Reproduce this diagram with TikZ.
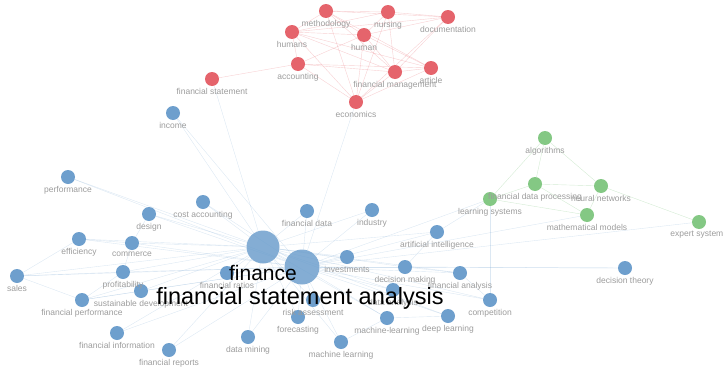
\documentclass[tikz,border=0pt]{standalone}
\usepackage{fontspec}
\setmainfont{Liberation Sans}
\usetikzlibrary{positioning,backgrounds}
\pgfdeclarelayer{background}
\pgfdeclarelayer{front}
\pgfsetlayers{background,main,front}
\definecolor{kwblue}{HTML}{6E9FCD}
\definecolor{kwred}{HTML}{E5646C}
\definecolor{kwgreen}{HTML}{84C884}
\definecolor{kwgrey}{HTML}{9C9C9C}
\tikzstyle{bluekw}=[circle, fill=kwblue, minimum size=14pt, inner sep=0pt]
\tikzstyle{redkw}=[circle, fill=kwred, minimum size=14pt, inner sep=0pt]
\tikzstyle{greenkw}=[circle, fill=kwgreen, minimum size=14pt, inner sep=0pt]
\tikzstyle{hub}=[circle, fill=kwblue, fill opacity=0.85, inner sep=0pt]
\tikzstyle{lbl}=[text=kwgrey, font=\fontsize{8.5}{9}\selectfont, inner sep=0pt]
\tikzstyle{biglbl}=[text=black, inner sep=0pt, anchor=base]
\tikzstyle{bluelink}=[draw=kwblue!80, opacity=0.3, line width=0.4pt]
\tikzstyle{redlink}=[draw=kwred, opacity=0.3, line width=0.4pt]
\tikzstyle{greenlink}=[draw=kwgreen, opacity=0.35, line width=0.4pt]
\newcommand{\kw}[4]{
  \node[#1] (#2) at (#3) {};
  \begin{pgfonlayer}{front}
    \node[lbl, below=1.5pt of #2] (#2-l) {#4};
  \end{pgfonlayer}
}

\begin{document}
\begin{tikzpicture}[x=1pt, y=-1pt]
  \useasboundingbox (0,0) rectangle (723,367);
  % red cluster
  \kw{redkw}{method}{326,11}{methodology}
  \kw{redkw}{nursing}{388,12}{nursing}
  \kw{redkw}{docu}{448,17}{documentation}
  \kw{redkw}{humans}{292,32}{humans}
  \kw{redkw}{human}{364,35}{human}
  \kw{redkw}{accounting}{298,64}{accounting}
  \kw{redkw}{finman}{395,72}{financial management}
  \kw{redkw}{article}{431,68}{article}
  \kw{redkw}{finstat}{212,79}{financial statement}
  \kw{redkw}{economics}{356,102}{economics}
  % green cluster
  \kw{greenkw}{algo}{545,138}{algorithms}
  \kw{greenkw}{fdp}{535,184}{financial data processing}
  \kw{greenkw}{neural}{601,186}{neural networks}
  \kw{greenkw}{learnsys}{490,199}{learning systems}
  \kw{greenkw}{mathmod}{587,215}{mathematical models}
  \kw{greenkw}{expert}{699,222}{expert systems}
  % blue cluster
  \kw{bluekw}{income}{173,113}{income}
  \kw{bluekw}{perf}{68,177}{performance}
  \kw{bluekw}{costacc}{203,202}{cost accounting}
  \kw{bluekw}{design}{149,214}{design}
  \kw{bluekw}{efficiency}{79,239}{efficiency}
  \kw{bluekw}{commerce}{132,243}{commerce}
  \kw{bluekw}{sales}{17,276}{sales}
  \kw{bluekw}{profit}{123,272}{profitability}
  \kw{bluekw}{sustdev}{141,291}{sustainable development}
  \kw{bluekw}{finperf}{82,300}{financial performance}
  \kw{bluekw}{fininfo}{117,333}{financial information}
  \kw{bluekw}{finrep}{169,350}{financial reports}
  \kw{bluekw}{datamining}{248,337}{data mining}
  \kw{bluekw}{mlearn}{341,342}{machine learning}
  \kw{bluekw}{forecast}{298,317}{forecasting}
  \kw{bluekw}{risk}{313,300}{risk assessment}
  \kw{bluekw}{mlhyph}{387,318}{machine-learning}
  \kw{bluekw}{deeplearn}{448,316}{deep learning}
  \kw{bluekw}{competition}{490,300}{competition}
  \kw{bluekw}{finanalysis}{460,273}{financial analysis}
  \kw{bluekw}{decmaking}{405,267}{decision making}
  \kw{bluekw}{dataanalysis}{393,290}{data analysis}
  \kw{bluekw}{invest}{347,257}{investments}
  \kw{bluekw}{ai}{437,232}{artificial intelligence}
  \kw{bluekw}{industry}{372,210}{industry}
  \kw{bluekw}{findata}{307,211}{financial data}
  \kw{bluekw}{finratios}{227,273}{financial ratios}
  \kw{bluekw}{dectheory}{625,268}{decision theory}
  \node[hub, minimum size=33pt] (finance) at (263,247) {};
  \node[hub, minimum size=35pt] (fsa) at (302,267) {};
  \begin{pgfonlayer}{front}
    \node[biglbl, font=\fontsize{21}{21}\selectfont] (finance-l) at (263,280) {finance};
    \node[biglbl, font=\fontsize{23.5}{24}\selectfont] (fsa-l) at (300,304) {financial statement analysis};
  \end{pgfonlayer}
  % links
  \begin{scope}[on background layer]
    \foreach \a/\b in {method/nursing, method/docu, method/humans, method/human,
        method/finman, method/economics, method/article, nursing/docu, nursing/humans,
        nursing/human, nursing/economics, nursing/finman, docu/human, docu/humans,
        docu/economics, docu/finman, humans/human, humans/accounting, humans/finman,
        humans/article, humans/economics, human/accounting, human/finman, human/article,
        human/economics, accounting/finman, accounting/article, accounting/economics,
        accounting/finstat, finman/article, finman/economics, article/economics}
      \draw[redlink] (\a) -- (\b);
    \foreach \a/\b in {algo/fdp, algo/neural, algo/learnsys, fdp/neural, fdp/learnsys,
        neural/mathmod, neural/expert, mathmod/learnsys, fdp/mathmod}
      \draw[greenlink] (\a) -- (\b);
    \foreach \n in {income, perf, costacc, design, efficiency, commerce, sales, profit,
        sustdev, finperf, fininfo, finrep, datamining, mlearn, forecast, risk, mlhyph,
        deeplearn, competition, finanalysis, decmaking, dataanalysis, invest, ai,
        industry, findata, finratios} {
      \draw[bluelink] (finance) -- (\n);
      \draw[bluelink] (fsa) -- (\n);
    }
    \foreach \a/\b in {finance/fsa, fsa/dectheory, decmaking/dectheory, fsa/learnsys,
        fsa/mathmod, fsa/expert, ai/learnsys, fsa/economics, finance/finstat,
        sales/efficiency, sales/profit, sales/finperf, efficiency/commerce,
        commerce/profit, design/commerce, profit/finperf, sustdev/finperf,
        deeplearn/mlhyph, finanalysis/competition, ai/decmaking, decmaking/finanalysis,
        mlearn/mlhyph, learnsys/competition}
      \draw[bluelink] (\a) -- (\b);
  \end{scope}
\end{tikzpicture}
\end{document}
